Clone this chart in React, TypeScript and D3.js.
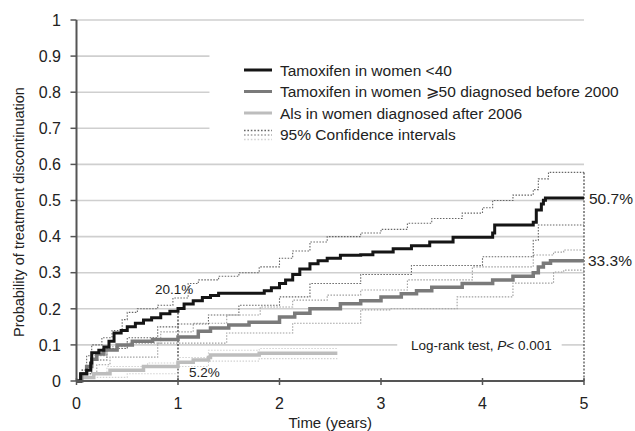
import React from "react";
import * as d3 from "d3";

type P = [number, number];

const yTicks = [0, 0.1, 0.2, 0.3, 0.4, 0.5, 0.6, 0.7, 0.8, 0.9, 1];
const yTickLabels = ["0", "0.1", "0.2", "0.3", "0.4", "0.5", "0.6", "0.7", "0.8", "0.9", "1"];
const xTicks = [0, 1, 2, 3, 4, 5];

const tamYoung: P[] = [[0,0],[0.04,0.02],[0.1,0.03],[0.14,0.05],[0.15,0.078],[0.22,0.085],[0.27,0.094],[0.32,0.11],[0.37,0.133],[0.44,0.14],[0.5,0.15],[0.58,0.16],[0.66,0.169],[0.74,0.175],[0.83,0.186],[0.92,0.193],[1.0,0.201],[1.06,0.213],[1.15,0.222],[1.24,0.231],[1.32,0.237],[1.4,0.243],[1.85,0.25],[1.92,0.258],[2.0,0.27],[2.06,0.28],[2.13,0.295],[2.2,0.31],[2.3,0.325],[2.38,0.333],[2.47,0.34],[2.6,0.348],[2.8,0.35],[2.92,0.357],[3.12,0.366],[3.3,0.375],[3.48,0.385],[3.71,0.398],[4.1,0.41],[4.12,0.432],[4.5,0.44],[4.53,0.474],[4.58,0.49],[4.6,0.501],[4.62,0.507],[5,0.507]];
const tamYoungHi: P[] = [[0.05,0.03],[0.1,0.07],[0.15,0.1],[0.25,0.12],[0.35,0.14],[0.45,0.17],[0.5,0.19],[0.6,0.2],[0.8,0.21],[0.95,0.23],[1.1,0.27],[1.2,0.28],[1.4,0.29],[1.6,0.3],[1.8,0.316],[2.0,0.34],[2.13,0.36],[2.3,0.385],[2.47,0.4],[2.8,0.41],[3.0,0.42],[3.26,0.437],[3.5,0.45],[3.8,0.465],[4.0,0.48],[4.1,0.5],[4.3,0.515],[4.5,0.53],[4.55,0.56],[4.65,0.578],[5,0.578]];
const tamYoungLo: P[] = [[0.1,0.02],[0.15,0.058],[0.3,0.09],[0.5,0.12],[0.8,0.15],[1.0,0.158],[1.3,0.183],[1.6,0.21],[2.0,0.233],[2.3,0.27],[2.8,0.295],[3.3,0.32],[4.0,0.344],[4.5,0.39],[4.55,0.432],[5,0.432]];

const tamOld: P[] = [[0,0],[0.05,0.02],[0.1,0.04],[0.15,0.06],[0.2,0.075],[0.27,0.086],[0.4,0.1],[0.55,0.11],[0.75,0.115],[1.0,0.122],[1.2,0.138],[1.32,0.147],[1.5,0.155],[1.7,0.163],[2.0,0.177],[2.15,0.188],[2.3,0.2],[2.6,0.214],[2.8,0.222],[3.0,0.233],[3.2,0.242],[3.35,0.25],[3.5,0.26],[3.8,0.27],[4.1,0.28],[4.3,0.29],[4.5,0.3],[4.55,0.316],[4.6,0.326],[4.67,0.333],[5,0.333]];
const tamOldHi: P[] = [[0.05,0.03],[0.15,0.07],[0.3,0.095],[0.5,0.105],[0.83,0.136],[1.15,0.16],[1.48,0.183],[1.81,0.205],[2.13,0.224],[2.47,0.238],[2.8,0.252],[3.26,0.28],[3.9,0.316],[4.5,0.349],[4.7,0.357],[4.8,0.363],[5,0.363]];
const tamOldLo: P[] = [[0.1,0.02],[0.2,0.045],[0.33,0.066],[0.8,0.105],[1.48,0.133],[2.13,0.16],[2.8,0.197],[3.1,0.2],[3.75,0.233],[4.3,0.271],[4.7,0.302],[4.8,0.307],[5,0.307]];

const ais: P[] = [[0,0],[0.05,0.01],[0.17,0.02],[0.33,0.03],[0.66,0.04],[1.0,0.052],[1.15,0.058],[1.3,0.065],[1.32,0.072],[1.8,0.077],[2.57,0.077]];
const aisHi: P[] = [[0.05,0.02],[0.3,0.04],[0.7,0.05],[1.0,0.065],[1.3,0.085],[1.8,0.09],[2.57,0.09]];
const aisLo: P[] = [[0.2,0.01],[0.5,0.02],[1.0,0.04],[1.3,0.055],[1.8,0.062],[2.57,0.062]];

const legendLabels = ["Tamoxifen in women <40", "Tamoxifen in women \u2a7e50 diagnosed before 2000", "Als in women diagnosed after 2006", "95% Confidence intervals"];

const W = 635, H = 431;
const FONT = "'Liberation Sans', Arial, Helvetica, sans-serif";

export default function App() {
  const x = d3.scaleLinear().domain([0, 5]).range([76.5, 584]);
  const y = d3.scaleLinear().domain([0, 1]).range([381, 20]);
  const line = d3.line<P>().x(d => x(d[0])).y(d => y(d[1])).curve(d3.curveStepAfter);

  const dark = "#151515", mid = "#7a7a7a", light = "#bdbdbd";
  const ciDark = "#666", ciMid = "#a0a0a0", ciLight = "#d2d2d2";
  const grid = "#cfcfcf";

  const gridLines = yTicks.filter(v => v > 0).map(v => {
    if (v >= 0.65 && v <= 0.95) return [{ v, x1: 0, x2: 1.31 }];
    if (Math.abs(v - 0.1) < 1e-6) return [{ v, x1: 0, x2: 3.16 }, { v, x1: 4.78, x2: 5 }];
    return [{ v, x1: 0, x2: 5 }];
  }).flat();

  const legX = 244, legY = 70, legDy = 21.5;

  return (
    <svg width={W} height={H} style={{ position: "absolute", left: 0, top: 0, background: "#fff" }} fontFamily={FONT}>
      {gridLines.map((g, i) => (
        <line key={i} x1={x(g.x1)} x2={x(g.x2)} y1={y(g.v)} y2={y(g.v)} stroke={grid} strokeWidth={1.6} />
      ))}
      {/* reference verticals */}
      <line x1={x(1)} x2={x(1)} y1={y(0)} y2={y(0.201)} stroke="#444" strokeWidth={1.3} strokeDasharray="2,1.5" />
      <line x1={x(5)} x2={x(5)} y1={y(0)} y2={y(0.58)} stroke="#555" strokeWidth={1.3} strokeDasharray="2,1.5" />

      {/* CIs */}
      {[[aisHi, ciLight], [aisLo, ciLight], [tamOldHi, ciMid], [tamOldLo, ciMid], [tamYoungHi, ciDark], [tamYoungLo, ciDark]].map(([d, c], i) => (
        <path key={i} d={line(d as P[]) || ""} fill="none" stroke={c as string} strokeWidth={1.1} strokeDasharray="1.5,1.5" />
      ))}
      {/* main curves */}
      <path d={line(ais) || ""} fill="none" stroke={light} strokeWidth={3.5} />
      <path d={line(tamOld) || ""} fill="none" stroke={mid} strokeWidth={3.5} />
      <path d={line(tamYoung) || ""} fill="none" stroke={dark} strokeWidth={3} />

      {/* axes */}
      <line x1={x(0)} x2={x(5)} y1={y(0)} y2={y(0)} stroke="#555" strokeWidth={2} />
      <line x1={x(0)} x2={x(0)} y1={y(0)} y2={y(1)} stroke="#555" strokeWidth={2} />
      {yTicks.map((v, i) => (
        <g key={i}>
          <line x1={x(0) - 6} x2={x(0)} y1={y(v)} y2={y(v)} stroke="#555" strokeWidth={1.5} />
          <text x={61} y={y(v)} dy="0.36em" textAnchor="end" fontSize={16} fill="#222">{yTickLabels[i]}</text>
        </g>
      ))}
      {xTicks.map((v, i) => (
        <g key={i}>
          <line x1={x(v)} x2={x(v)} y1={y(0) - 3} y2={y(0) + 4} stroke="#555" strokeWidth={1.5} />
          <text x={x(v)} y={409} textAnchor="middle" fontSize={16} fill="#222">{v}</text>
        </g>
      ))}
      <text x={(x(0) + x(5)) / 2} y={428} textAnchor="middle" fontSize={15} fill="#222">Time (years)</text>
      <text transform={`translate(24,212) rotate(-90)`} textAnchor="middle" fontSize={14.5} fill="#222">Probability of treatment discontinuation</text>

      {/* annotations */}
      <text x={155} y={294} fontSize={13.5} fill="#222">20.1%</text>
      <text x={189} y={377} fontSize={13.5} fill="#222">5.2%</text>
      <text x={589} y={y(0.507)} dy="0.36em" fontSize={15.5} fill="#222">50.7%</text>
      <text x={588} y={y(0.333)} dy="0.36em" fontSize={15.5} fill="#222">33.3%</text>
      <text x={411} y={y(0.1)} dy="0.36em" fontSize={13.5} fill="#222">Log-rank test, <tspan fontStyle="italic">P</tspan>&lt; 0.001</text>

      {/* legend */}
      {[dark, mid, light].map((c, i) => (
        <g key={i}>
          <line x1={legX} x2={legX + 28} y1={legY + i * legDy} y2={legY + i * legDy} stroke={c} strokeWidth={3} />
          <text x={280} y={legY + i * legDy} dy="0.36em" fontSize={15.5} fill="#222">{legendLabels[i]}</text>
        </g>
      ))}
      {[ciDark, ciMid, ciLight].map((c, i) => (
        <line key={i} x1={legX} x2={legX + 28} y1={legY + 3 * legDy - 4 + i * 4.5} y2={legY + 3 * legDy - 4 + i * 4.5} stroke={c} strokeWidth={1.6} strokeDasharray="1.6,1.8" />
      ))}
      <text x={280} y={legY + 3 * legDy} dy="0.36em" fontSize={15.5} fill="#222">{legendLabels[3]}</text>
    </svg>
  );
}
